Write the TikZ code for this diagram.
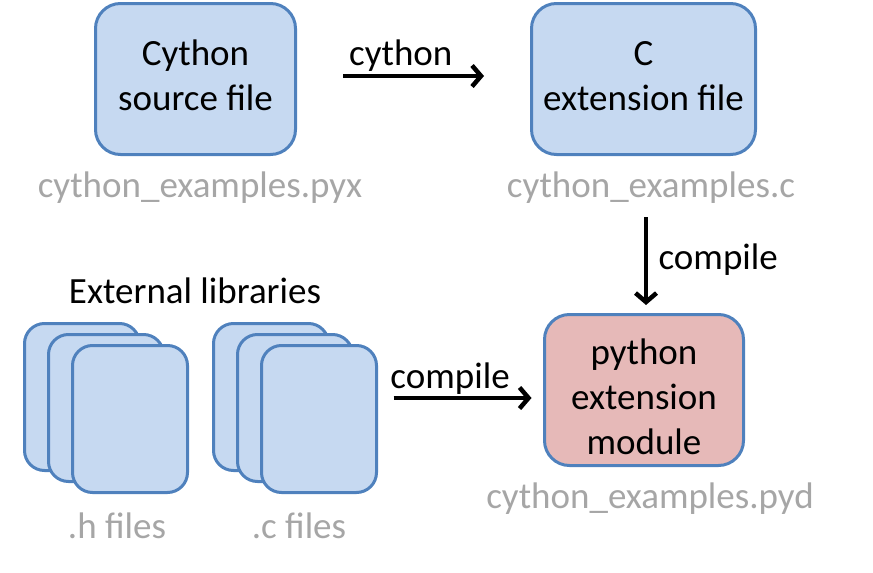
\documentclass[tikz,border=0pt]{standalone}
\usepackage{fontspec}
\setmainfont{Carlito}
\usetikzlibrary{arrows.meta}

\definecolor{boxblue}{HTML}{C6D9F1}
\definecolor{boxedge}{HTML}{4F81BD}
\definecolor{boxpink}{HTML}{E6B9B8}
\definecolor{namegray}{HTML}{A6A6A6}

\tikzstyle{block} = [rectangle, draw=boxedge, line width=3pt, fill=boxblue, rounded corners=25pt, align=center, minimum height=151pt]
\tikzstyle{sheet} = [rectangle, draw=boxedge, line width=3pt, fill=boxblue, rounded corners=20pt, minimum width=115pt, minimum height=147pt]
\tikzstyle{filename} = [anchor=base, text=namegray]
\tikzstyle{flow} = [-{Straight Barb[length=9pt,width=21pt]}, line width=4.5pt]

\begin{document}
\begin{tikzpicture}[x=1pt, y=-1pt, font=\fontsize{37pt}{45pt}\selectfont]
        \useasboundingbox (0,0) rectangle (873,573);
        % top row: source and generated C file
        \node (src) at (195.5,79) [block, minimum width=200pt] {\strut Cython\\source file\strut};
        \node (cext) at (643.5,79) [block, minimum width=224pt] {\strut C\\extension file\strut};
        \node (pyxname) at (200,197) [filename] {cython\_examples.pyx};
        \node (cname) at (651,197) [filename] {cython\_examples.c};

        % external libraries
        \node (extlib) at (195,303) [anchor=base] {External libraries};
        \foreach \i in {1,2,3} {
            \node (hf\i) at ({82+24*(\i-1)},{397+11*(\i-1)}) [sheet] {};
        }
        \foreach \i in {1,2,3} {
            \node (cf\i) at ({271+24*(\i-1)},{397+11*(\i-1)}) [sheet] {};
        }
        \node (hname) at (117,538) [filename] {.h files};
        \node (cfname) at (299,538) [filename] {.c files};

        % result
        \node (py) at (644,390) [block, fill=boxpink, minimum width=199pt] {\rule{0pt}{39pt}python\\extension\\module};
        \node (pydname) at (650,508) [filename] {cython\_examples.pyd};

        % arrows
        \draw[flow, shorten <=46pt] ([yshift=3pt]src.east) -- ([xshift=-46pt,yshift=3pt]cext.west)
            node[pos=0.555, anchor=base, yshift=11pt] {cython};
        \draw[flow, shorten <=61pt] ([xshift=2pt]cext.south -| py.north) -- ([xshift=2pt,yshift=8pt]py.north)
            node[pos=0.76, anchor=base west, xshift=7pt] {compile};
        \draw[flow] (cf3.east |- py.west) ++(15.5,8) -- ([xshift=-11.5pt,yshift=-8pt]py.west)
            node[pos=0.41, anchor=base, yshift=10pt] {compile};
\end{tikzpicture}
\end{document}
